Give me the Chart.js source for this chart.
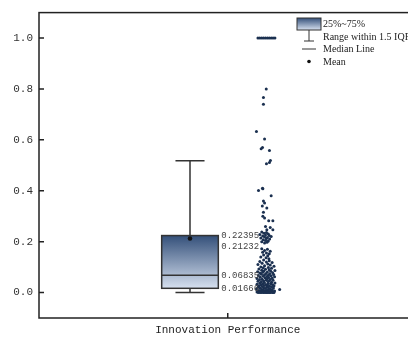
<!DOCTYPE html>
<html>
<head>
<meta charset="utf-8">
<script src="https://cdn.jsdelivr.net/npm/chart.js@4.4.1/dist/chart.umd.min.js"></script>
<style>
  html, body { margin: 0; padding: 0; background: #fff; overflow: hidden; }
  #wrap { width: 418px; height: 338px; }
</style>
</head>
<body>
<div id="wrap"><canvas id="c" width="418" height="338"></canvas></div>
<script>
// category and y ticks
const category = "Innovation Performance";
const yTicks = [0, 0.2, 0.4, 0.6, 0.8, 1.0];

// box statistics
const q1 = 0.01666;
const median = 0.06835;
const mean = 0.21232;
const q3 = 0.22395;
const whiskerLow = 0;
const whiskerHigh = 0.518;

// raw points (value, horizontal jitter)
const pointValues = [
  1, 1, 1, 1, 1, 1, 1, 1, 1, 1,
  0.8, 0.766, 0.74, 0.633, 0.603, 0.57, 0.565, 0.558, 0.519, 0.511, 0.506,
  0.41, 0.408, 0.401, 0.38, 0.36, 0.352, 0.34, 0.332, 0.316, 0.3, 0.293, 0.282, 0.282,
  0.26, 0.256, 0.247, 0.247,
  0.238, 0.236, 0.233, 0.23, 0.228, 0.226, 0.224, 0.222, 0.22, 0.218,
  0.216, 0.214, 0.212, 0.21, 0.207, 0.205, 0.203, 0.2, 0.198, 0.195,
  0.172, 0.17, 0.165, 0.162, 0.158, 0.155, 0.152, 0.148, 0.145, 0.14, 0.137, 0.133,
  0.128, 0.125, 0.122, 0.12, 0.118, 0.115, 0.112, 0.11, 0.108, 0.105,
  0.103, 0.1, 0.098, 0.097, 0.095, 0.093, 0.092, 0.09, 0.088, 0.087,
  0.085, 0.084, 0.082, 0.081, 0.08, 0.078, 0.077, 0.075, 0.074, 0.072,
  0.071, 0.07, 0.068, 0.067, 0.066, 0.064, 0.063, 0.062, 0.06, 0.059,
  0.058, 0.056, 0.055, 0.054, 0.052, 0.051, 0.05, 0.049, 0.048, 0.046,
  0.045, 0.044, 0.043, 0.042, 0.04, 0.039, 0.038, 0.037, 0.036, 0.035,
  0.034, 0.033, 0.032, 0.031, 0.03, 0.029, 0.028, 0.027, 0.026, 0.025,
  0.024, 0.023, 0.022, 0.021, 0.02, 0.019, 0.018, 0.017, 0.016, 0.015,
  0.014, 0.013, 0.012, 0.011, 0.01, 0.009, 0.008, 0.008, 0.007, 0.006,
  0.006, 0.005, 0.005, 0.004, 0.004, 0.003, 0.003, 0.002, 0.002, 0.002,
  0.001, 0.001, 0.001, 0, 0, 0, 0, 0, 0, 0,
  0, 0, 0, 0.012
];
const pointJitter = [
  -0.04, -0.03, -0.02, -0.01, 0, 0.01, 0.02, 0.03, 0.04, 0.05,
  0.004, -0.011, -0.011, -0.048, -0.005, -0.016, -0.023, 0.021, 0.026, 0.021, 0.005,
  -0.016, -0.014, -0.037, 0.03, -0.011, -0.005, -0.017, 0.007, -0.011, -0.014, -0.005, 0.017, 0.039,
  0, 0.025, 0.007, 0.039,
  -0.02, 0.005, -0.008, 0.015, -0.03, 0, 0.02, -0.015, 0.03, -0.005,
  0.01, -0.025, 0.005, 0.022, -0.012, 0, 0.015, -0.02, 0.008, -0.005,
  -0.02, 0.01, -0.005, 0.025, -0.015, 0.005, 0.02, -0.01, 0.012, -0.025, 0.003, 0.018,
  -0.01, 0.02, -0.03, 0.005, 0.035, -0.018, 0.012, -0.04, 0.025, -0.005,
  0.045, -0.025, 0.015, -0.012, 0.032, -0.035, 0, 0.02, -0.02, 0.05,
  -0.008, 0.028, -0.042, 0.01, -0.015, 0.038, -0.03, 0.003, 0.022, -0.022,
  0.043, -0.005, 0.015, -0.038, 0.03, -0.012, 0.008, 0.048, -0.028, 0.018,
  -0.002, 0.035, -0.045, 0.01, -0.018, 0.025, -0.032, 0.004, 0.04, -0.01,
  0.02, -0.04, 0.012, -0.022, 0.032, -0.006, 0.05, -0.03, 0.015, -0.015,
  0.028, -0.045, 0.002, 0.038, -0.025, 0.01, -0.008, 0.045, -0.035, 0.022,
  -0.018, 0.006, 0.033, -0.04, 0.014, -0.01, 0.042, -0.028, 0, 0.025,
  -0.048, 0.018, -0.02, 0.036, -0.012, 0.008, -0.035, 0.03, -0.004, 0.048,
  -0.025, 0.015, -0.042, 0.022, -0.015, 0.04, -0.03, 0.005, 0.028, -0.045,
  0.012, -0.008, 0.035, -0.02, 0.018, -0.038, 0.045, 0, -0.01, 0.025,
  -0.028, 0.038, 0.008, 0.075
];

const boxX = 0.8;
const pointsX = 1.2;

const points = pointValues.map((v, i) => ({ x: pointsX + pointJitter[i], y: v }));

const boxPlugin = {
  id: 'boxPlot',
  afterDatasetsDraw(chart) {
    const ctx = chart.ctx;
    const xs = chart.scales.x, ys = chart.scales.y;
    const ca = chart.chartArea;
    const cx = xs.getPixelForValue(boxX);
    const half = xs.getPixelForValue(boxX + 0.15) - cx;
    const capHalf = xs.getPixelForValue(boxX + 0.077) - cx;
    const yQ1 = ys.getPixelForValue(q1), yQ3 = ys.getPixelForValue(q3);
    const yMed = ys.getPixelForValue(median), yMean = ys.getPixelForValue(mean);
    const yLo = ys.getPixelForValue(whiskerLow), yHi = ys.getPixelForValue(whiskerHigh);

    ctx.save();
    ctx.strokeStyle = '#333';
    ctx.lineWidth = 1.5;
    // whiskers
    ctx.beginPath();
    ctx.moveTo(cx, yQ3); ctx.lineTo(cx, yHi);
    ctx.moveTo(cx - capHalf, yHi); ctx.lineTo(cx + capHalf, yHi);
    ctx.moveTo(cx, yQ1); ctx.lineTo(cx, yLo);
    ctx.moveTo(cx - capHalf, yLo); ctx.lineTo(cx + capHalf, yLo);
    ctx.stroke();
    // box
    const g = ctx.createLinearGradient(0, yQ3, 0, yQ1);
    g.addColorStop(0, '#34507a');
    g.addColorStop(1, '#d6e0ef');
    ctx.fillStyle = g;
    ctx.fillRect(cx - half, yQ3, half * 2, yQ1 - yQ3);
    ctx.strokeRect(cx - half, yQ3, half * 2, yQ1 - yQ3);
    ctx.beginPath();
    ctx.moveTo(cx - half, yMed); ctx.lineTo(cx + half, yMed);
    ctx.stroke();
    // mean
    ctx.fillStyle = '#111';
    ctx.beginPath();
    ctx.arc(cx, yMean, 2.3, 0, Math.PI * 2);
    ctx.fill();
    // value labels
    ctx.font = '9px "Liberation Mono"';
    ctx.fillStyle = '#444';
    ctx.textBaseline = 'middle';
    ctx.textAlign = 'left';
    const lx = cx + half + 3;
    ctx.fillText(q3.toFixed(5), lx, yQ3);
    ctx.fillText(mean.toFixed(5), lx, yMean + 8);
    ctx.fillText(median.toFixed(5), lx, yMed);
    ctx.fillText(q1.toFixed(5), lx, yQ1);

    // frame and inward ticks
    ctx.strokeStyle = '#222';
    ctx.lineWidth = 1.5;
    ctx.strokeRect(ca.left, ca.top, ca.right - ca.left, ca.bottom - ca.top);
    ctx.beginPath();
    yTicks.forEach(t => {
      const y = ys.getPixelForValue(t);
      ctx.moveTo(ca.left, y); ctx.lineTo(ca.left + 5, y);
    });
    const tx = xs.getPixelForValue(1);
    ctx.moveTo(tx, ca.bottom); ctx.lineTo(tx, ca.bottom - 5);
    ctx.stroke();

    // legend
    const lg = ctx.createLinearGradient(0, 18, 0, 30);
    lg.addColorStop(0, '#34507a');
    lg.addColorStop(1, '#d6e0ef');
    ctx.fillStyle = lg;
    ctx.fillRect(297, 18, 24, 12);
    ctx.strokeStyle = '#333';
    ctx.lineWidth = 1;
    ctx.strokeRect(297, 18, 24, 12);
    ctx.beginPath();
    ctx.moveTo(309, 30); ctx.lineTo(309, 41);
    ctx.moveTo(304, 41); ctx.lineTo(314, 41);
    ctx.moveTo(302, 49); ctx.lineTo(316, 49);
    ctx.stroke();
    ctx.fillStyle = '#111';
    ctx.beginPath();
    ctx.arc(309, 61.5, 1.8, 0, Math.PI * 2);
    ctx.fill();
    ctx.font = '10px "Liberation Serif"';
    ctx.fillStyle = '#222';
    ctx.fillText('25%~75%', 323, 24);
    ctx.fillText('Range within 1.5 IQR', 323, 37);
    ctx.fillText('Median Line', 323, 49.5);
    ctx.fillText('Mean', 323, 62);
    ctx.restore();
  }
};

new Chart(document.getElementById('c'), {
  type: 'scatter',
  data: {
    datasets: [{
      label: category,
      data: points,
      backgroundColor: '#1b3050',
      borderColor: '#1b3050',
      borderWidth: 0,
      pointRadius: 1.5,
      pointHoverRadius: 1.5
    }]
  },
  options: {
    responsive: false,
    animation: false,
    layout: { padding: { top: 12, right: 0, left: 0, bottom: 0 } },
    plugins: { legend: { display: false }, tooltip: { enabled: false } },
    scales: {
      x: {
        type: 'linear',
        min: 0, max: 2,
        afterBuildTicks: s => { s.ticks = [{ value: 1 }]; },
        afterFit: s => { s.height = 20; },
        grid: { display: false, drawTicks: false },
        border: { display: false },
        ticks: {
          padding: 5,
          color: '#222',
          font: { family: 'Liberation Mono', size: 11 },
          callback: () => category
        }
      },
      y: {
        min: -0.1, max: 1.1,
        afterBuildTicks: s => { s.ticks = yTicks.map(v => ({ value: v })); },
        afterFit: s => { s.width = 39; },
        grid: { display: false, drawTicks: false },
        border: { display: false },
        ticks: {
          padding: 6,
          color: '#333',
          font: { family: 'Liberation Mono', size: 11 },
          callback: v => v.toFixed(1)
        }
      }
    }
  },
  plugins: [boxPlugin]
});
</script>
</body>
</html>
